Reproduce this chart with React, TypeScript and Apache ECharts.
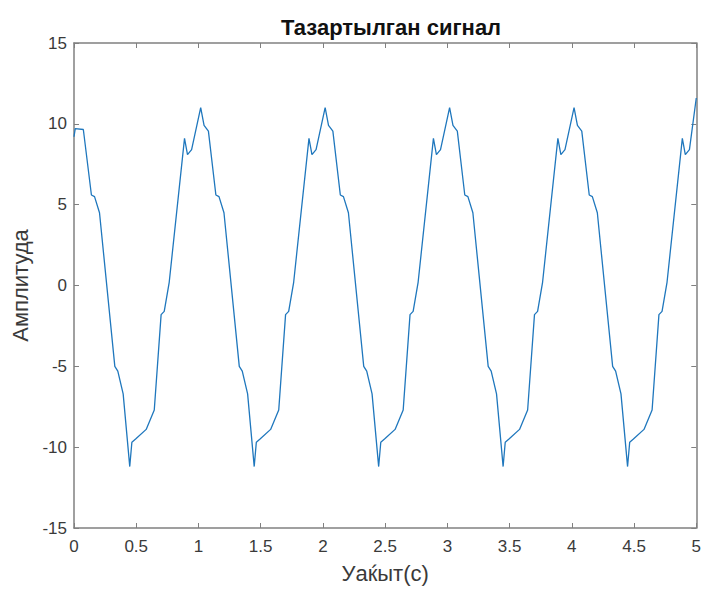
import React, { useEffect, useRef } from "react";
import * as echarts from "echarts";

const titleText = "Тазартылган сигнал";
const xName = "Уаќыт(с)";
const yName = "Амплитуда";
const xTicks = [0, 0.5, 1, 1.5, 2, 2.5, 3, 3.5, 4, 4.5, 5];
const yTicks = [-15, -10, -5, 0, 5, 10, 15];

const times = [
  0, 0.01, 0.075, 0.14, 0.165, 0.205, 0.328, 0.352, 0.395, 0.448, 0.465, 0.495, 0.58, 0.645, 0.7, 0.725, 0.765,
  0.888, 0.912, 0.945, 1.018, 1.045, 1.08, 1.14, 1.165, 1.205, 1.328, 1.352, 1.395, 1.448, 1.465, 1.495, 1.58, 1.645, 1.7, 1.725, 1.765,
  1.888, 1.912, 1.945, 2.018, 2.045, 2.08, 2.14, 2.165, 2.205, 2.328, 2.352, 2.395, 2.448, 2.465, 2.495, 2.58, 2.645, 2.7, 2.725, 2.765,
  2.888, 2.912, 2.945, 3.018, 3.045, 3.08, 3.14, 3.165, 3.205, 3.328, 3.352, 3.395, 3.448, 3.465, 3.495, 3.58, 3.645, 3.7, 3.725, 3.765,
  3.888, 3.912, 3.945, 4.018, 4.045, 4.08, 4.14, 4.165, 4.205, 4.328, 4.352, 4.395, 4.448, 4.465, 4.495, 4.58, 4.645, 4.7, 4.725, 4.765,
  4.888, 4.912, 4.945, 5.0,
];

const amplitude = [
  9.2, 9.7, 9.65, 5.6, 5.5, 4.5, -5.0, -5.3, -6.7, -11.2, -9.7, -9.5, -8.9, -7.7, -1.8, -1.6, 0.2,
  9.1, 8.1, 8.4, 11.0, 9.9, 9.55, 5.6, 5.5, 4.5, -5.0, -5.3, -6.7, -11.2, -9.7, -9.5, -8.9, -7.7, -1.8, -1.6, 0.2,
  9.1, 8.1, 8.4, 11.0, 9.9, 9.55, 5.6, 5.5, 4.5, -5.0, -5.3, -6.7, -11.2, -9.7, -9.5, -8.9, -7.7, -1.8, -1.6, 0.2,
  9.1, 8.1, 8.4, 11.0, 9.9, 9.55, 5.6, 5.5, 4.5, -5.0, -5.3, -6.7, -11.2, -9.7, -9.5, -8.9, -7.7, -1.8, -1.6, 0.2,
  9.1, 8.1, 8.4, 11.0, 9.9, 9.55, 5.6, 5.5, 4.5, -5.0, -5.3, -6.7, -11.2, -9.7, -9.5, -8.9, -7.7, -1.8, -1.6, 0.2,
  9.1, 8.1, 8.4, 11.6,
];

const FONT = "'Liberation Sans', Arial, Helvetica, sans-serif";
const AXIS_COLOR = "#808080";
const TEXT_COLOR = "#3a3a3a";

export default function App() {
  const ref = useRef<HTMLDivElement>(null);
  useEffect(() => {
    if (!ref.current) return;
    const chart = echarts.init(ref.current, null, { renderer: "svg" });
    const data = times.map((t, i) => [t, amplitude[i]]);
    const axisLineStyle = { show: true, onZero: false, lineStyle: { color: AXIS_COLOR, width: 1.5 } };
    const tick = { show: true, inside: true, length: 5, lineStyle: { color: AXIS_COLOR, width: 1 } };
    chart.setOption({
      animation: false,
      backgroundColor: "#ffffff",
      title: {
        text: titleText,
        left: 386,
        top: 11,
        textAlign: "center",
        textStyle: { fontFamily: FONT, fontSize: 22, fontWeight: "bold", color: "#111" },
      },
      grid: { left: 74, right: 6, top: 43, bottom: 55, containLabel: false },
      xAxis: [
        {
          type: "value",
          min: xTicks[0],
          max: xTicks[xTicks.length - 1],
          interval: 0.5,
          position: "bottom",
          name: xName,
          nameLocation: "middle",
          nameGap: 34,
          nameTextStyle: { fontFamily: FONT, fontSize: 22, color: TEXT_COLOR },
          axisLine: axisLineStyle,
          axisTick: tick,
          splitLine: { show: false },
          axisLabel: { fontFamily: FONT, fontSize: 17, color: TEXT_COLOR, margin: 10 },
        },
        {
          type: "value",
          min: xTicks[0],
          max: xTicks[xTicks.length - 1],
          interval: 0.5,
          position: "top",
          axisLine: axisLineStyle,
          axisTick: tick,
          splitLine: { show: false },
          axisLabel: { show: false },
        },
      ],
      yAxis: [
        {
          type: "value",
          min: yTicks[0],
          max: yTicks[yTicks.length - 1],
          interval: 5,
          position: "left",
          name: yName,
          nameLocation: "middle",
          nameGap: 40,
          nameRotate: 90,
          nameTextStyle: { fontFamily: FONT, fontSize: 22, color: TEXT_COLOR },
          axisLine: axisLineStyle,
          axisTick: tick,
          splitLine: { show: false },
          axisLabel: { fontFamily: FONT, fontSize: 17, color: TEXT_COLOR, margin: 7 },
        },
        {
          type: "value",
          min: yTicks[0],
          max: yTicks[yTicks.length - 1],
          interval: 5,
          position: "right",
          axisLine: axisLineStyle,
          axisTick: tick,
          splitLine: { show: false },
          axisLabel: { show: false },
        },
      ],
      series: [
        {
          type: "line",
          data,
          xAxisIndex: 0,
          yAxisIndex: 0,
          showSymbol: false,
          symbol: "none",
          lineStyle: { color: "#1f77bd", width: 1.3 },
        },
      ],
    });
    return () => chart.dispose();
  }, []);
  return (
    <div
      ref={ref}
      style={{ position: "absolute", left: 0, top: 0, width: 704, height: 589, background: "#fff" }}
    />
  );
}
